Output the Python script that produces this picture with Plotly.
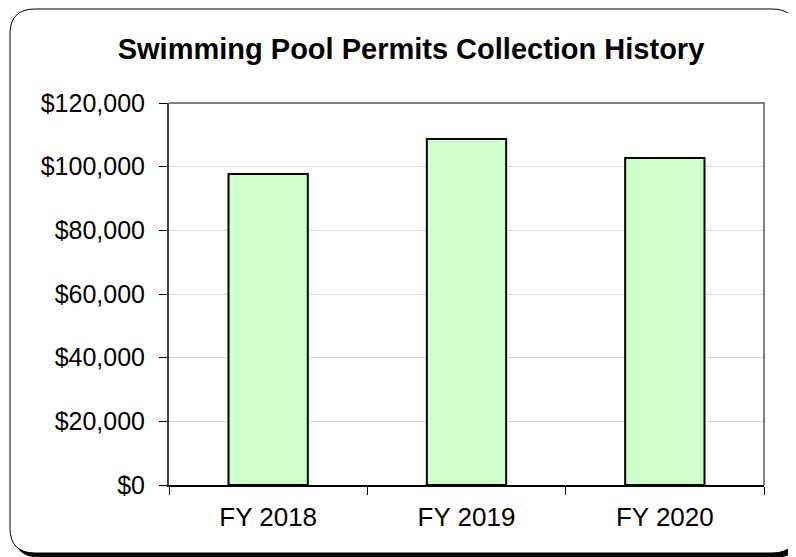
import plotly.graph_objects as go

categories = ["FY 2018", "FY 2019", "FY 2020"]
collections = [97700, 108700, 102700]
y_ticks = [0, 20000, 40000, 60000, 80000, 100000, 120000]
y_tick_labels = ["$0", "$20,000", "$40,000", "$60,000", "$80,000", "$100,000", "$120,000"]
title_text = "Swimming Pool Permits Collection History"

# page offset (body margin) compensation
OFF = 8
W, H = 796 - OFF, 557 - OFF
# plot area in page pixels: x 169..764, y 103..485
L = 169 - OFF
T = 103 - OFF
R = W - (764 - OFF)
B = H - (485 - OFF)
PW, PH = W - L - R, H - T - B

def px(x):
    return (x - OFF - L) / PW

def py(y):
    return (H - B - (y - OFF)) / PH

def rrect(x0, y0, x1, y1, r):
    pts = [
        f"M {px(x0 + r)},{py(y0)}",
        f"L {px(x1 - r)},{py(y0)}",
        f"Q {px(x1)},{py(y0)} {px(x1)},{py(y0 + r)}",
        f"L {px(x1)},{py(y1 - r)}",
        f"Q {px(x1)},{py(y1)} {px(x1 - r)},{py(y1)}",
        f"L {px(x0 + r)},{py(y1)}",
        f"Q {px(x0)},{py(y1)} {px(x0)},{py(y1 - r)}",
        f"L {px(x0)},{py(y0 + r)}",
        f"Q {px(x0)},{py(y0)} {px(x0 + r)},{py(y0)}",
        "Z",
    ]
    return " ".join(pts)

fig = go.Figure(
    go.Bar(
        x=categories,
        y=collections,
        marker=dict(color="#CCFFCC", line=dict(color="black", width=2)),
        width=0.4,
    )
)

font = "Liberation Sans, Arial, sans-serif"

fig.update_layout(
    width=W,
    height=H,
    autosize=False,
    margin=dict(l=L, r=R, t=T, b=B, pad=0),
    paper_bgcolor="white",
    plot_bgcolor="rgba(0,0,0,0)",
    showlegend=False,
    font=dict(family=font, color="black", size=25),
    title=dict(
        text=f"<b>{title_text}</b>",
        x=(411 - OFF) / W,
        xanchor="center",
        xref="container",
        y=1 - (49 - OFF) / H,
        yanchor="middle",
        font=dict(family=font, size=29, color="black"),
    ),
    shapes=[
        dict(type="path", xref="paper", yref="paper", layer="below",
             path=rrect(14, 13, 801, 557, 25), fillcolor="black",
             line=dict(color="black", width=1)),
        dict(type="path", xref="paper", yref="paper", layer="below",
             path=rrect(10, 9, 797, 553, 25), fillcolor="white",
             line=dict(color="black", width=1)),
        dict(type="path", xref="paper", yref="paper", layer="above",
             path="M 0,1 L 1,1 L 1,0", line=dict(color="#808080", width=2)),
    ],
)

fig.update_xaxes(
    showgrid=False,
    showline=True,
    linecolor="black",
    linewidth=2,
    ticks="outside",
    tickson="boundaries",
    ticklen=8,
    tickcolor="black",
    tickwidth=1,
    tickfont=dict(size=26),
    ticklabelstandoff=8,
    zeroline=False,
)

fig.update_yaxes(
    range=[0, 120000],
    tickmode="array",
    tickvals=y_ticks,
    ticktext=y_tick_labels,
    showgrid=True,
    gridcolor="#D9D9D9",
    gridwidth=1,
    showline=True,
    linecolor="#404040",
    linewidth=2,
    ticks="outside",
    ticklen=8,
    tickcolor="black",
    tickwidth=1,
    tickfont=dict(size=25),
    ticklabelstandoff=9,
    zeroline=False,
)

fig.write_html("out.html")
